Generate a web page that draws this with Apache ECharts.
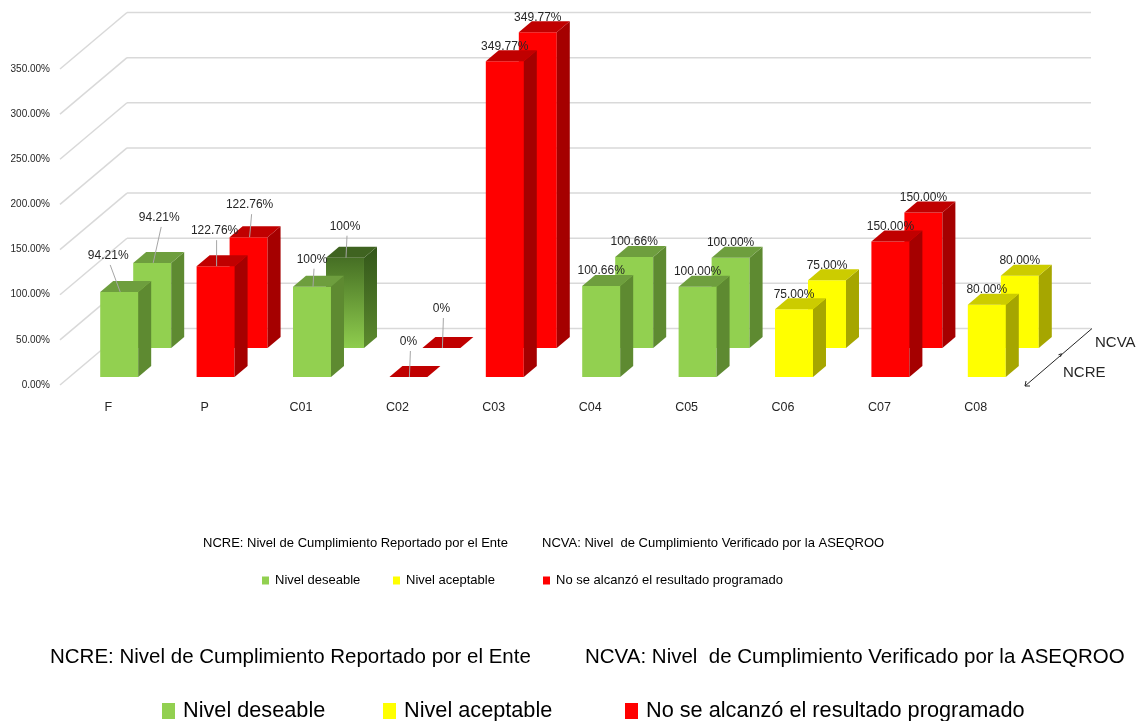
<!DOCTYPE html>
<html>
<head>
<meta charset="utf-8">
<title>Nivel de Cumplimiento</title>
<script src="https://cdn.jsdelivr.net/npm/echarts@6/dist/echarts.min.js"></script>
<style>
  html, body { margin: 0; padding: 0; background: #fff; }
  #chart { width: 1140px; height: 721px; }
</style>
</head>
<body>
<div id="chart"></div>
<script>
// datos
const categories = ['F', 'P', 'C01', 'C02', 'C03', 'C04', 'C05', 'C06', 'C07', 'C08']
const ncre = [94.21, 122.76, 100, 0, 349.77, 100.66, 100, 75, 150, 80]
const ncva = [94.21, 122.76, 100, 0, 349.77, 100.66, 100, 75, 150, 80]
const ncreText = ['94.21%', '122.76%', '100%', '0%', '349.77%', '100.66%', '100.00%', '75.00%', '150.00%', '80.00%']
const ncvaText = ['94.21%', '122.76%', '100%', '0%', '349.77%', '100.66%', '100.00%', '75.00%', '150.00%', '80.00%']
// nivel de cada componente: d = deseable, a = aceptable, n = no alcanzado
const levels = ['d', 'n', 'd', 'n', 'n', 'd', 'd', 'a', 'n', 'a']
const yTicks = [0, 50, 100, 150, 200, 250, 300, 350]
const rowNames = ['NCRE', 'NCVA']
const levelNames = ['Nivel deseable', 'Nivel aceptable', 'No se alcanzó el resultado programado']

const FONT = "'Liberation Sans', Arial, sans-serif"

const palette = {
  d: { face: '#92D050', side: '#5E8A31', top: '#6E9E3E' },
  a: { face: '#FFFF00', side: '#A6A600', top: '#CCCC00' },
  n: { face: '#FF0000', side: '#A50000', top: '#C00000' }
}
// la barra C01 de NCVA aparece sombreada en el original
const shaded = {
  face: new echarts.graphic.LinearGradient(0, 0, 0, 1, [{ offset: 0, color: '#466F24' }, { offset: 1, color: '#8FCD4E' }]),
  side: new echarts.graphic.LinearGradient(0, 0, 0, 1, [{ offset: 0, color: '#33561A' }, { offset: 1, color: '#5C8A2E' }]),
  top: '#3F6320'
}

// perspectiva
const WALL = { dx: 67, dy: -56.5 }
const DEPTH = { dx: 13, dy: -11 }
const ROWS = [{ dx: 11, dy: -8 }, { dx: 44, dy: -37 }]
const BAR_RATIO = 0.394
// ajuste de etiquetas [dx, dy] por componente, fila delantera / trasera
const labelNudge = [
  [[-11, -36], [7, -45]],
  [[-1, -35], [1, -32]],
  [[0, -27], [0, -31]],
  [[0, -35], [0, -39]]
]

const chart = echarts.init(document.getElementById('chart'))

function wallItem(params, api) {
  const cs = params.coordSys
  const v = api.value(1)
  const p = api.coord([0, v])
  const y = p[1]
  const x0 = cs.x, x1 = cs.x + cs.width
  const line = { stroke: '#D9D9D9', lineWidth: 1.5 }
  const children = [
    { type: 'line', shape: { x1: x0, y1: y, x2: x0 + WALL.dx, y2: y + WALL.dy }, style: line },
    { type: 'line', shape: { x1: x0 + WALL.dx, y1: y + WALL.dy, x2: x1 + WALL.dx, y2: y + WALL.dy }, style: line }
  ]
  if (v === 0) {
    // eje de profundidad (series)
    const ax = { stroke: '#262626', lineWidth: 1 }
    const mx = x1 + WALL.dx / 2 + 4, my = y + WALL.dy / 2 - 3
    children.push(
      { type: 'line', shape: { x1: x1 + 1, y1: y + 1, x2: x1 + WALL.dx + 1, y2: y + WALL.dy }, style: ax },
      { type: 'line', shape: { x1: x1 + 1, y1: y + 1, x2: x1 + 6, y2: y + 1 }, style: ax },
      { type: 'line', shape: { x1: x1 + 1, y1: y + 1, x2: x1 + 2, y2: y - 4 }, style: ax },
      { type: 'line', shape: { x1: mx, y1: my, x2: mx - 3, y2: my + 1 }, style: ax },
      { type: 'line', shape: { x1: mx, y1: my, x2: mx - 1, y2: my + 3 }, style: ax },
      { type: 'text', style: { text: rowNames[0], x: x1 + 39, y: y - 12, fill: '#262626', font: '15px ' + FONT, verticalAlign: 'middle' } },
      { type: 'text', style: { text: rowNames[1], x: x1 + 71, y: y - 42, fill: '#262626', font: '15px ' + FONT, verticalAlign: 'middle' } }
    )
  }
  return { type: 'group', children: children }
}

function barRenderer(texts, rowIdx) {
  const row = ROWS[rowIdx]
  return function (params, api) {
    const i = api.value(0)
    const v = api.value(1)
    const w = api.size([1, 0])[0] * BAR_RATIO
    const base = api.coord([i, 0])
    const top = api.coord([i, v])
    const x0 = base[0] - w / 2 + row.dx
    const x1 = x0 + w
    const yb = base[1] + row.dy
    const yt = top[1] + row.dy
    const c = (rowIdx === 1 && i === 2) ? shaded : palette[levels[i]]
    const children = []
    if (yb - yt > 0.5) {
      children.push({ type: 'rect', shape: { x: x0, y: yt, width: w, height: yb - yt }, style: { fill: c.face } })
      children.push({
        type: 'polygon',
        shape: { points: [[x1, yb], [x1, yt], [x1 + DEPTH.dx, yt + DEPTH.dy], [x1 + DEPTH.dx, yb + DEPTH.dy]] },
        style: { fill: c.side }
      })
    }
    children.push({
      type: 'polygon',
      shape: { points: [[x0, yt], [x1, yt], [x1 + DEPTH.dx, yt + DEPTH.dy], [x0 + DEPTH.dx, yt + DEPTH.dy]] },
      style: { fill: c.top }
    })
    const cx = x0 + w / 2
    const nudge = labelNudge[i] ? labelNudge[i][rowIdx] : [0, -15]
    const lx = cx + nudge[0]
    const ly = yt + nudge[1]
    if (nudge[1] < -20) {
      children.push({
        type: 'line',
        shape: { x1: lx + 2, y1: ly + 9, x2: cx + 1, y2: yt },
        style: { stroke: '#A6A6A6', lineWidth: 1 }
      })
    }
    children.push({
      type: 'text',
      style: { text: texts[i], x: lx, y: ly, fill: '#262626', font: '12px ' + FONT, align: 'center', verticalAlign: 'middle' }
    })
    return { type: 'group', children: children }
  }
}

function legendAt(name, left, top, size) {
  return {
    data: [name],
    left: left,
    top: top,
    padding: 0,
    icon: 'rect',
    selectedMode: false,
    itemWidth: size.w,
    itemHeight: size.h,
    itemGap: 0,
    textStyle: { fontFamily: FONT, fontSize: size.font, color: '#000', padding: [0, 0, 0, size.pad] }
  }
}
const small = { w: 7, h: 8, font: 13, pad: 1 }
const big = { w: 13, h: 16, font: 21.7, pad: 3 }

chart.setOption({
  backgroundColor: '#fff',
  animation: false,
  grid: { left: 60, right: 116, top: 69, bottom: 336 },
  xAxis: {
    type: 'category',
    data: categories,
    axisLine: { show: false },
    axisTick: { show: false },
    splitLine: { show: false },
    axisLabel: { margin: 16, fontSize: 12.5, fontFamily: FONT, color: '#262626' }
  },
  yAxis: {
    type: 'value',
    min: 0,
    max: 350,
    interval: 50,
    axisLine: { show: false },
    axisTick: { show: false },
    splitLine: { show: false },
    axisLabel: {
      margin: 10,
      fontSize: 10,
      fontFamily: FONT,
      color: '#262626',
      formatter: function (v) { return v.toFixed(2) + '%' }
    }
  },
  legend: [
    legendAt(levelNames[0], 262, 574, small),
    legendAt(levelNames[1], 393, 574, small),
    legendAt(levelNames[2], 543, 574, small),
    legendAt(levelNames[0], 162, 700, big),
    legendAt(levelNames[1], 383, 700, big),
    legendAt(levelNames[2], 625, 700, big)
  ],
  graphic: [
    { type: 'text', x: 203, y: 543, style: { text: 'NCRE: Nivel de Cumplimiento Reportado por el Ente', font: '13px ' + FONT, fill: '#000', verticalAlign: 'middle' } },
    { type: 'text', x: 542, y: 543, style: { text: 'NCVA: Nivel  de Cumplimiento Verificado por la ASEQROO', font: '13px ' + FONT, fill: '#000', verticalAlign: 'middle' } },
    { type: 'text', x: 50, y: 657, style: { text: 'NCRE: Nivel de Cumplimiento Reportado por el Ente', font: '20.5px ' + FONT, fill: '#000', verticalAlign: 'middle' } },
    { type: 'text', x: 585, y: 657, style: { text: 'NCVA: Nivel  de Cumplimiento Verificado por la ASEQROO', font: '20.5px ' + FONT, fill: '#000', verticalAlign: 'middle' } }
  ],
  series: [
    {
      name: 'paredes',
      type: 'custom',
      renderItem: wallItem,
      silent: true,
      data: yTicks.map(function (v) { return [0, v] })
    },
    {
      name: rowNames[1],
      type: 'custom',
      renderItem: barRenderer(ncvaText, 1),
      data: ncva.map(function (v, i) { return [i, v] })
    },
    {
      name: rowNames[0],
      type: 'custom',
      renderItem: barRenderer(ncreText, 0),
      data: ncre.map(function (v, i) { return [i, v] })
    },
    { name: levelNames[0], type: 'bar', data: [], itemStyle: { color: '#92D050' } },
    { name: levelNames[1], type: 'bar', data: [], itemStyle: { color: '#FFFF00' } },
    { name: levelNames[2], type: 'bar', data: [], itemStyle: { color: '#FF0000' } }
  ]
})
</script>
</body>
</html>
